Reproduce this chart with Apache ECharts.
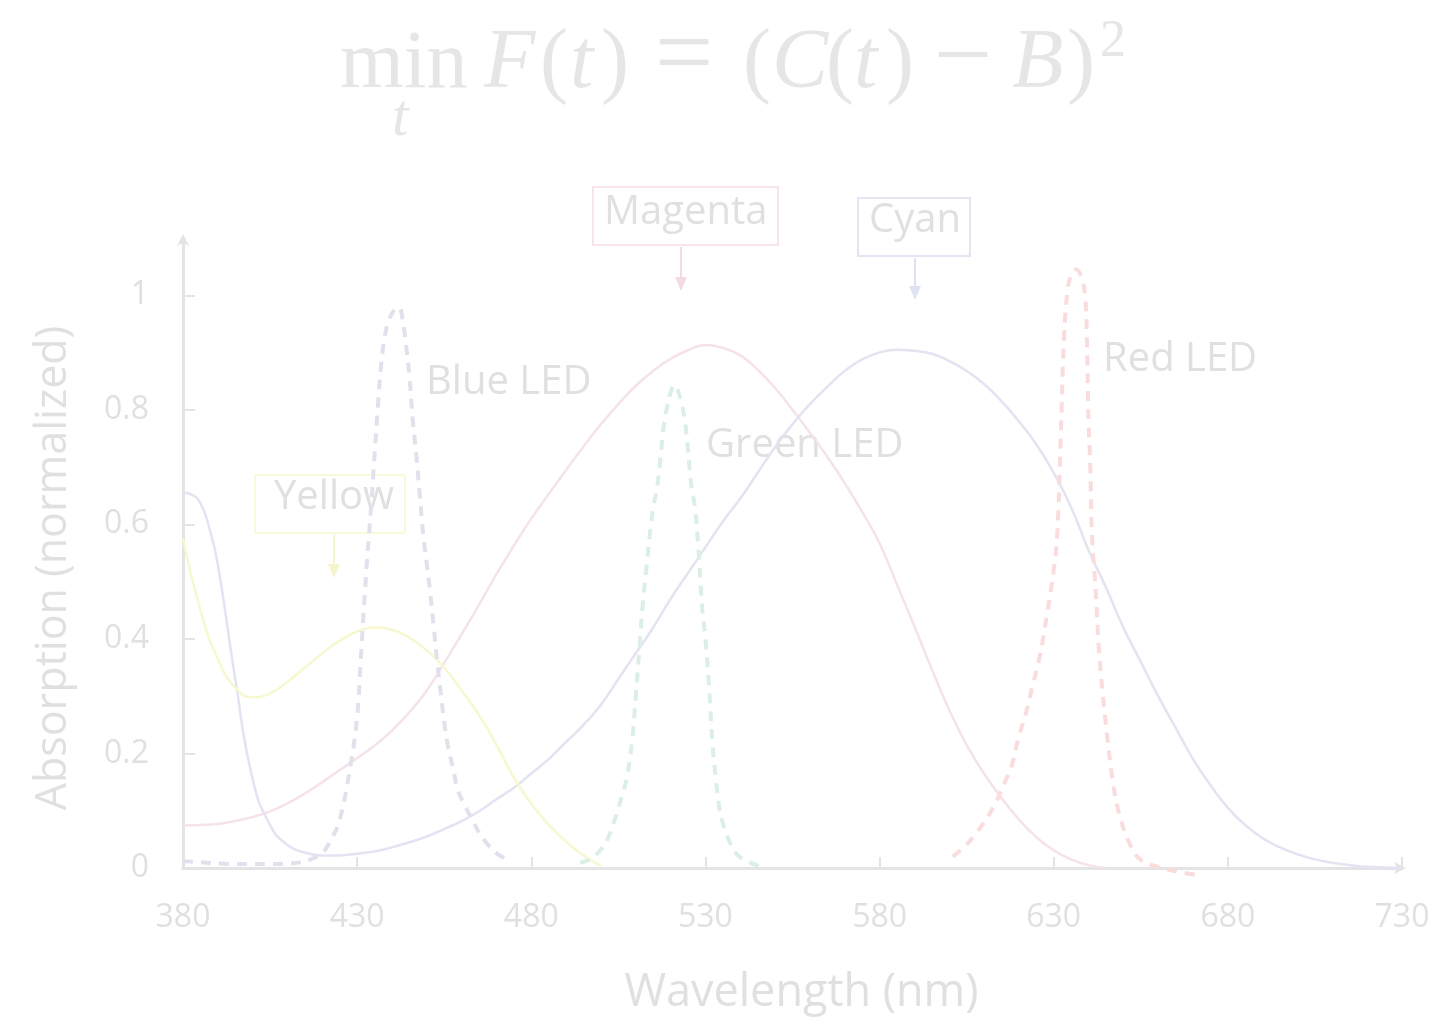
<!DOCTYPE html>
<html>
<head>
<meta charset="utf-8">
<script src="https://cdn.jsdelivr.net/npm/echarts@6/dist/echarts.min.js"></script>
<style>
html,body{margin:0;padding:0;background:#fff;}
#chart{width:1439px;height:1024px;}
</style>
</head>
<body>
<div id="chart"></div>
<script>
// ---- data (wavelength in nm, normalized absorption) ----
const xTicks = [380, 430, 480, 530, 580, 630, 680, 730];
const yTicks = [0, 0.2, 0.4, 0.6, 0.8, 1];

const cyanX = [380,382.5,385,387.5,390,395,400,405,410,415,420,425,430,435,440,445,450,455,460,465,470,475,480,485,490,495,500,505,510,515,520,525,530,535,540,545,550,555,560,565,570,575,580,585,590,595,600,605,610,615,620,625,630,635,640,645,650,655,660,665,670,675,680,685,690,695,700,705,710,715,720,725,730];
const cyanY = [0.655,0.652,0.637,0.595,0.53,0.33,0.155,0.075,0.04,0.027,0.022,0.022,0.025,0.029,0.036,0.045,0.055,0.068,0.082,0.099,0.12,0.14,0.165,0.19,0.22,0.25,0.285,0.33,0.375,0.42,0.47,0.515,0.56,0.605,0.645,0.69,0.735,0.775,0.81,0.84,0.868,0.888,0.9,0.905,0.903,0.898,0.885,0.868,0.845,0.815,0.78,0.74,0.69,0.63,0.555,0.49,0.42,0.36,0.3,0.245,0.19,0.145,0.105,0.075,0.052,0.036,0.024,0.015,0.009,0.005,0.002,0.001,0];

const magentaX = [380,385,390,395,400,405,410,415,420,425,430,435,440,445,450,455,460,465,470,475,480,485,490,495,500,505,510,515,520,525,530,535,540,545,550,555,560,565,570,575,580,585,590,595,600,605,610,615,620,625,630,635,640,645];
const magentaY = [0.074,0.075,0.077,0.082,0.089,0.099,0.113,0.13,0.15,0.171,0.192,0.214,0.24,0.272,0.31,0.358,0.408,0.46,0.513,0.563,0.61,0.653,0.695,0.736,0.775,0.81,0.842,0.868,0.889,0.904,0.913,0.908,0.895,0.87,0.838,0.8,0.76,0.718,0.672,0.622,0.567,0.495,0.422,0.347,0.276,0.215,0.165,0.122,0.085,0.054,0.031,0.015,0.005,0];

const yellowX = [380,385,390,395,400,405,410,415,420,425,430,435,440,445,450,455,460,465,470,475,480,485,490,495,500];
const yellowY = [0.575,0.45,0.365,0.315,0.298,0.305,0.325,0.35,0.375,0.397,0.413,0.42,0.416,0.402,0.38,0.35,0.31,0.267,0.215,0.158,0.112,0.076,0.046,0.022,0.004];

const blueLedX = [380,385,390,395,400,405,410,414,417,420,423,425,428,430,431,432,433,434,435,436,437,438,439,440,441,442,443,444,445,446,447,448,449,450,451,452,453,454,455,456,457.5,459,461,463,465,467,470,473];
const blueLedY = [0.012,0.01,0.008,0.007,0.007,0.007,0.008,0.01,0.016,0.026,0.055,0.084,0.175,0.264,0.36,0.46,0.55,0.63,0.72,0.81,0.885,0.93,0.955,0.968,0.976,0.979,0.96,0.915,0.86,0.78,0.72,0.65,0.58,0.53,0.48,0.42,0.36,0.305,0.255,0.215,0.175,0.135,0.108,0.085,0.062,0.045,0.026,0.015];

const greenLedX = [494,497,500,502,504,506,507.5,509,510,511,512,513,514,515,516,517,518,519,520,521,522,523,524,525,526,527,528,529,530,531,532,533,534,535,537,539,542,546];
const greenLedY = [0.009,0.016,0.032,0.052,0.085,0.125,0.16,0.225,0.3,0.38,0.46,0.52,0.58,0.63,0.66,0.71,0.77,0.805,0.83,0.843,0.835,0.815,0.785,0.73,0.665,0.63,0.555,0.46,0.4,0.32,0.22,0.155,0.105,0.078,0.045,0.024,0.012,0.002];

const redLedX = [601,604,607,610,613,616,618,620,622,624,626,628,630,631,632,633,634,635,636.5,638,639,639.5,640,640.5,641,642,643,644,645,647,649,652,655,660,666,672];
const redLedY = [0.02,0.035,0.055,0.08,0.11,0.15,0.18,0.23,0.27,0.32,0.37,0.44,0.52,0.58,0.75,0.93,1.01,1.035,1.045,1.03,1.0,0.93,0.78,0.7,0.58,0.49,0.38,0.31,0.25,0.15,0.09,0.04,0.014,0.002,-0.007,-0.013];

const pairs = (xs, ys) => xs.map((x, i) => [x, ys[i]]);

// ---- styling ----
const TXT = '#e0e0e0';
const AX = '#e4e4e4';
const TITLE = '#e6e6e6';
const FONT = "'Open Sans', 'Noto Sans', sans-serif";
const SERIF = "'Liberation Serif', 'DejaVu Serif', serif";

const chart = echarts.init(document.getElementById('chart'));

function solid(name, data, color) {
  return { name, type: 'line', data, showSymbol: false, smooth: 0.5, clip: false,
    lineStyle: { color, width: 2.5 }, z: 2 };
}
function dashed(name, data, color) {
  return { name, type: 'line', data, showSymbol: false, smooth: 0.4, clip: false,
    lineStyle: { color, width: 4, type: [10, 8] }, z: 3 };
}

const annoText = (text, x, y) => ({ type: 'text', left: x, top: y,
  style: { text, fill: TXT, font: '40px ' + FONT } });
const box = (x, y, w, h, c) => ({ type: 'rect', shape: { x, y, width: w, height: h },
  style: { fill: 'none', stroke: c, lineWidth: 2 } });
const arrow = (x, y1, y2, c) => ([
  { type: 'line', shape: { x1: x, y1: y1, x2: x, y2: y2 - 8 }, style: { stroke: c, lineWidth: 2 } },
  { type: 'polygon', shape: { points: [[x - 6, y2 - 14], [x + 6, y2 - 14], [x, y2]] }, style: { fill: c } }
]);
// formula glyph pieces
const glyph = (text, x, y, size, italic, align, valign) => ({ type: 'text', x, y,
  style: { text, fill: TITLE, font: (italic ? 'italic ' : '') + size + 'px ' + SERIF,
    textAlign: align || 'left', textVerticalAlign: valign || 'top' } });

const option = {
  backgroundColor: '#ffffff',
  animation: false,
  grid: { left: 183, right: 37, top: 238, bottom: 156, containLabel: false },
  xAxis: {
    type: 'value', min: xTicks[0], max: xTicks[xTicks.length - 1], interval: 50,
    name: 'Wavelength (nm)', nameLocation: 'middle', nameGap: 103,
    nameTextStyle: { color: TXT, fontSize: 45, fontFamily: FONT, padding: [0, 0, 0, 18] },
    axisLine: { show: true, onZero: false, lineStyle: { color: AX, width: 3 },
      symbol: ['none', 'arrow'], symbolSize: [9, 12], symbolOffset: [0, 4] },
    axisTick: { show: true, inside: true, length: 11, lineStyle: { color: AX, width: 2 } },
    axisLabel: { color: TXT, fontSize: 32, fontFamily: FONT, margin: 34,
      customValues: xTicks },
    splitLine: { show: false }
  },
  yAxis: {
    type: 'value', min: 0, max: 1.1, interval: 0.2,
    name: 'Absorption (normalized)', nameLocation: 'middle', nameGap: 108,
    nameTextStyle: { color: TXT, fontSize: 43, fontFamily: FONT, padding: [0, 30, 0, 0] },
    axisLine: { show: true, lineStyle: { color: AX, width: 3 },
      symbol: ['none', 'arrow'], symbolSize: [9, 12], symbolOffset: [0, 4] },
    axisTick: { show: true, inside: true, length: 12, lineStyle: { color: AX, width: 2 },
      customValues: yTicks },
    axisLabel: { color: TXT, fontSize: 32, fontFamily: FONT, margin: 34,
      customValues: yTicks },
    splitLine: { show: false }
  },
  series: [
    solid('Magenta', pairs(magentaX, magentaY), '#f5e2eb'),
    solid('Cyan', pairs(cyanX, cyanY), '#e3e3f2'),
    solid('Yellow', pairs(yellowX, yellowY), '#f8f8d0'),
    dashed('Blue LED', pairs(blueLedX, blueLedY), '#e1e1ee'),
    dashed('Green LED', pairs(greenLedX, greenLedY), '#dcefe4'),
    dashed('Red LED', pairs(redLedX, redLedY), '#fadcdc')
  ],
  graphic: [
    // formula:  min_t F(t) = (C(t) − B)^2
    glyph('min', 340, 24, 82, false),
    glyph('t', 392, 89, 60, true),
    glyph('F', 484, 23, 84, true),
    glyph('(', 540, 23, 84, false),
    glyph('t', 570, 23, 84, true),
    glyph(')', 601, 23, 84, false),
    glyph('=', 684, 60, 104, false, 'center', 'middle'),
    glyph('(', 743, 23, 84, false),
    glyph('C', 772, 23, 84, true),
    glyph('(', 826, 23, 84, false),
    glyph('t', 854, 23, 84, true),
    glyph(')', 886, 23, 84, false),
    glyph('−', 963, 62, 104, false, 'center', 'middle'),
    glyph('B', 1012, 23, 84, true),
    glyph(')', 1067, 23, 84, false),
    glyph('2', 1100, 16, 52, false),

    // annotation boxes
    box(593, 187, 185, 58, '#f7e4ec'),
    annoText('Magenta', 604, 193),
    ...arrow(681, 247, 291, '#f3dbe6'),
    box(858, 198, 112, 58, '#e3e5f3'),
    annoText('Cyan', 869, 201),
    ...arrow(915, 258, 300, '#dfe2f2'),
    box(255, 475, 150, 58, '#f9f9dc'),
    annoText('Yellow', 274, 478),
    ...arrow(334, 535, 578, '#f5f5cc'),
    annoText('Blue LED', 426, 363),
    annoText('Green LED', 706, 426),
    annoText('Red LED', 1103, 340)
  ]
};
chart.setOption(option);
</script>
</body>
</html>
